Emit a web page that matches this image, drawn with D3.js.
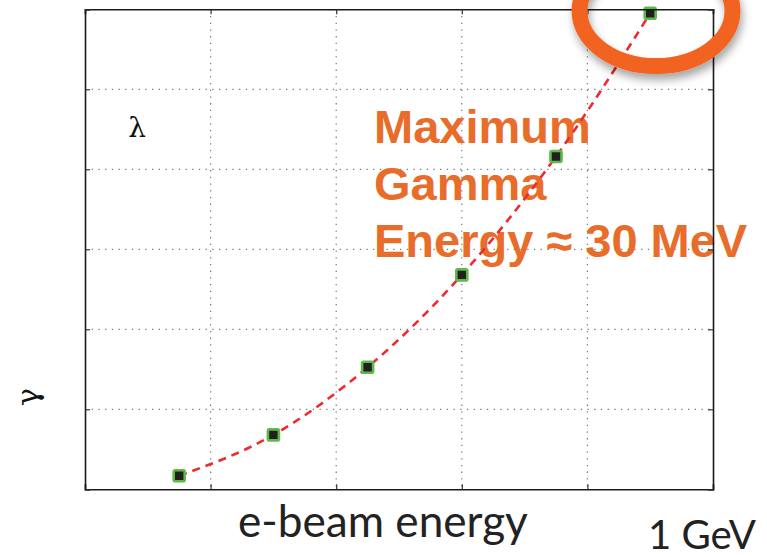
<!DOCTYPE html>
<html>
<head>
<meta charset="utf-8">
<script src="https://cdn.jsdelivr.net/npm/d3@7"></script>
<style>
  html, body { margin: 0; padding: 0; background: #fff; }
  svg { display: block; }
</style>
</head>
<body>
<svg id="chart" width="767" height="557"></svg>
<script>
// ---- data ----
const beamEnergy = [0.75, 1.5, 2.25, 3.0, 3.75, 4.5];
const gammaEnergy = [0.17, 0.68, 1.525, 2.68, 4.16, 5.95];
const xTicks = [0, 1, 2, 3, 4, 5];
const yTicks = [0, 1, 2, 3, 4, 5, 6];
const annotationLines = ["Maximum", "Gamma", "Energy \u2248 30 MeV"];
const xLabel = "e-beam energy";
const xEndLabel = "1 GeV";
const yLabel = "\u03b3";
const innerLabel = "\u03bb";

const svg = d3.select("#chart");
const m = { left: 85, right: 713, top: 9.3, bottom: 489.3 };

const x = d3.scaleLinear().domain([0, 5]).range([m.left, m.right]);
const y = d3.scaleLinear().domain([0, 6]).range([m.bottom, m.top]);

const defs = svg.append("defs");
const f = defs.append("filter").attr("id", "shadow").attr("x", "-30%").attr("y", "-30%").attr("width", "160%").attr("height", "170%");
f.append("feDropShadow").attr("dx", 2).attr("dy", 6).attr("stdDeviation", 4)
  .attr("flood-color", "#000").attr("flood-opacity", 0.35);

// grid
const grid = svg.append("g");
grid.selectAll("line.vx").data(xTicks.slice(1, -1)).join("line")
  .attr("x1", d => x(d)).attr("x2", d => x(d))
  .attr("y1", m.top).attr("y2", m.bottom)
  .attr("stroke", "#777").attr("stroke-width", 1.2).attr("stroke-dasharray", "1.3,5.4");
grid.selectAll("line.hy").data(yTicks.slice(1, -1)).join("line")
  .attr("y1", d => y(d)).attr("y2", d => y(d))
  .attr("x1", m.left).attr("x2", m.right)
  .attr("stroke", "#777").attr("stroke-width", 1.2).attr("stroke-dasharray", "1.3,5.4");

// annotation text
const ann = svg.append("text")
  .attr("font-family", "'Liberation Sans', Arial, sans-serif")
  .attr("font-weight", "bold").attr("font-size", 47).attr("fill", "#E86D2A");
annotationLines.forEach((t, i) => {
  ann.append("tspan").attr("x", 374).attr("y", 143.3 + i * 56.7).text(t);
});

// lambda
svg.append("text").attr("x", 137).attr("y", 137).attr("text-anchor", "middle")
  .attr("font-family", "'DejaVu Serif', serif").attr("font-size", 28).attr("fill", "#111")
  .text(innerLabel);

// gamma (rotated)
svg.append("text").attr("transform", "translate(38,397) rotate(-90)")
  .attr("text-anchor", "middle")
  .attr("font-family", "'DejaVu Serif', serif").attr("font-size", 30).attr("fill", "#111")
  .text(yLabel);

// line
const line = d3.line().x((d, i) => x(beamEnergy[i])).y(d => y(d)).curve(d3.curveMonotoneX);
svg.append("path").attr("d", line(gammaEnergy))
  .attr("fill", "none").attr("stroke", "#EE2A2E").attr("stroke-width", 2.6)
  .attr("stroke-dasharray", "8,6");

// markers
svg.selectAll("rect.pt").data(gammaEnergy).join("rect")
  .attr("x", (d, i) => x(beamEnergy[i]) - 5.5).attr("y", d => y(d) - 5.5)
  .attr("width", 11).attr("height", 11).attr("rx", 1.5)
  .attr("fill", "#231F20").attr("stroke", "#5DB94A").attr("stroke-width", 2.6);

// axes (ticks inward on all four sides, no labels)
const tk = 5;
svg.append("g").attr("transform", `translate(0,${m.bottom})`)
  .call(d3.axisBottom(x).tickValues(xTicks).tickSize(-tk).tickFormat(""));
svg.append("g").attr("transform", `translate(0,${m.top})`)
  .call(d3.axisTop(x).tickValues(xTicks).tickSize(-tk).tickFormat(""));
svg.append("g").attr("transform", `translate(${m.left},0)`)
  .call(d3.axisLeft(y).tickValues(yTicks).tickSize(-tk).tickFormat(""));
svg.append("g").attr("transform", `translate(${m.right},0)`)
  .call(d3.axisRight(y).tickValues(yTicks).tickSize(-tk).tickFormat(""));
svg.selectAll(".domain").attr("stroke", "#1a1a1a").attr("stroke-width", 1.6);
svg.selectAll(".tick line").attr("stroke", "#333").attr("stroke-width", 1.2);

// x labels
function fitText(sel, target) {
  const w = sel.node().getComputedTextLength();
  const fs = parseFloat(sel.attr("font-size"));
  sel.attr("font-size", fs * target / w);
}
const xl = svg.append("text").attr("x", 238).attr("y", 536.7)
  .attr("font-family", "Lato, 'Open Sans', sans-serif").attr("font-size", 40).attr("fill", "#222")
  .text(xLabel);
fitText(xl, 290);
const gl = svg.append("text").attr("x", 648).attr("y", 549)
  .attr("font-family", "Lato, 'Open Sans', sans-serif").attr("font-size", 38).attr("fill", "#222")
  .text(xEndLabel);
fitText(gl, 108);

// highlight ellipse
svg.append("ellipse").attr("cx", 656).attr("cy", 11).attr("rx", 76.5).attr("ry", 55)
  .attr("fill", "none").attr("stroke", "#F26322").attr("stroke-width", 16)
  .attr("filter", "url(#shadow)");
</script>
</body>
</html>
